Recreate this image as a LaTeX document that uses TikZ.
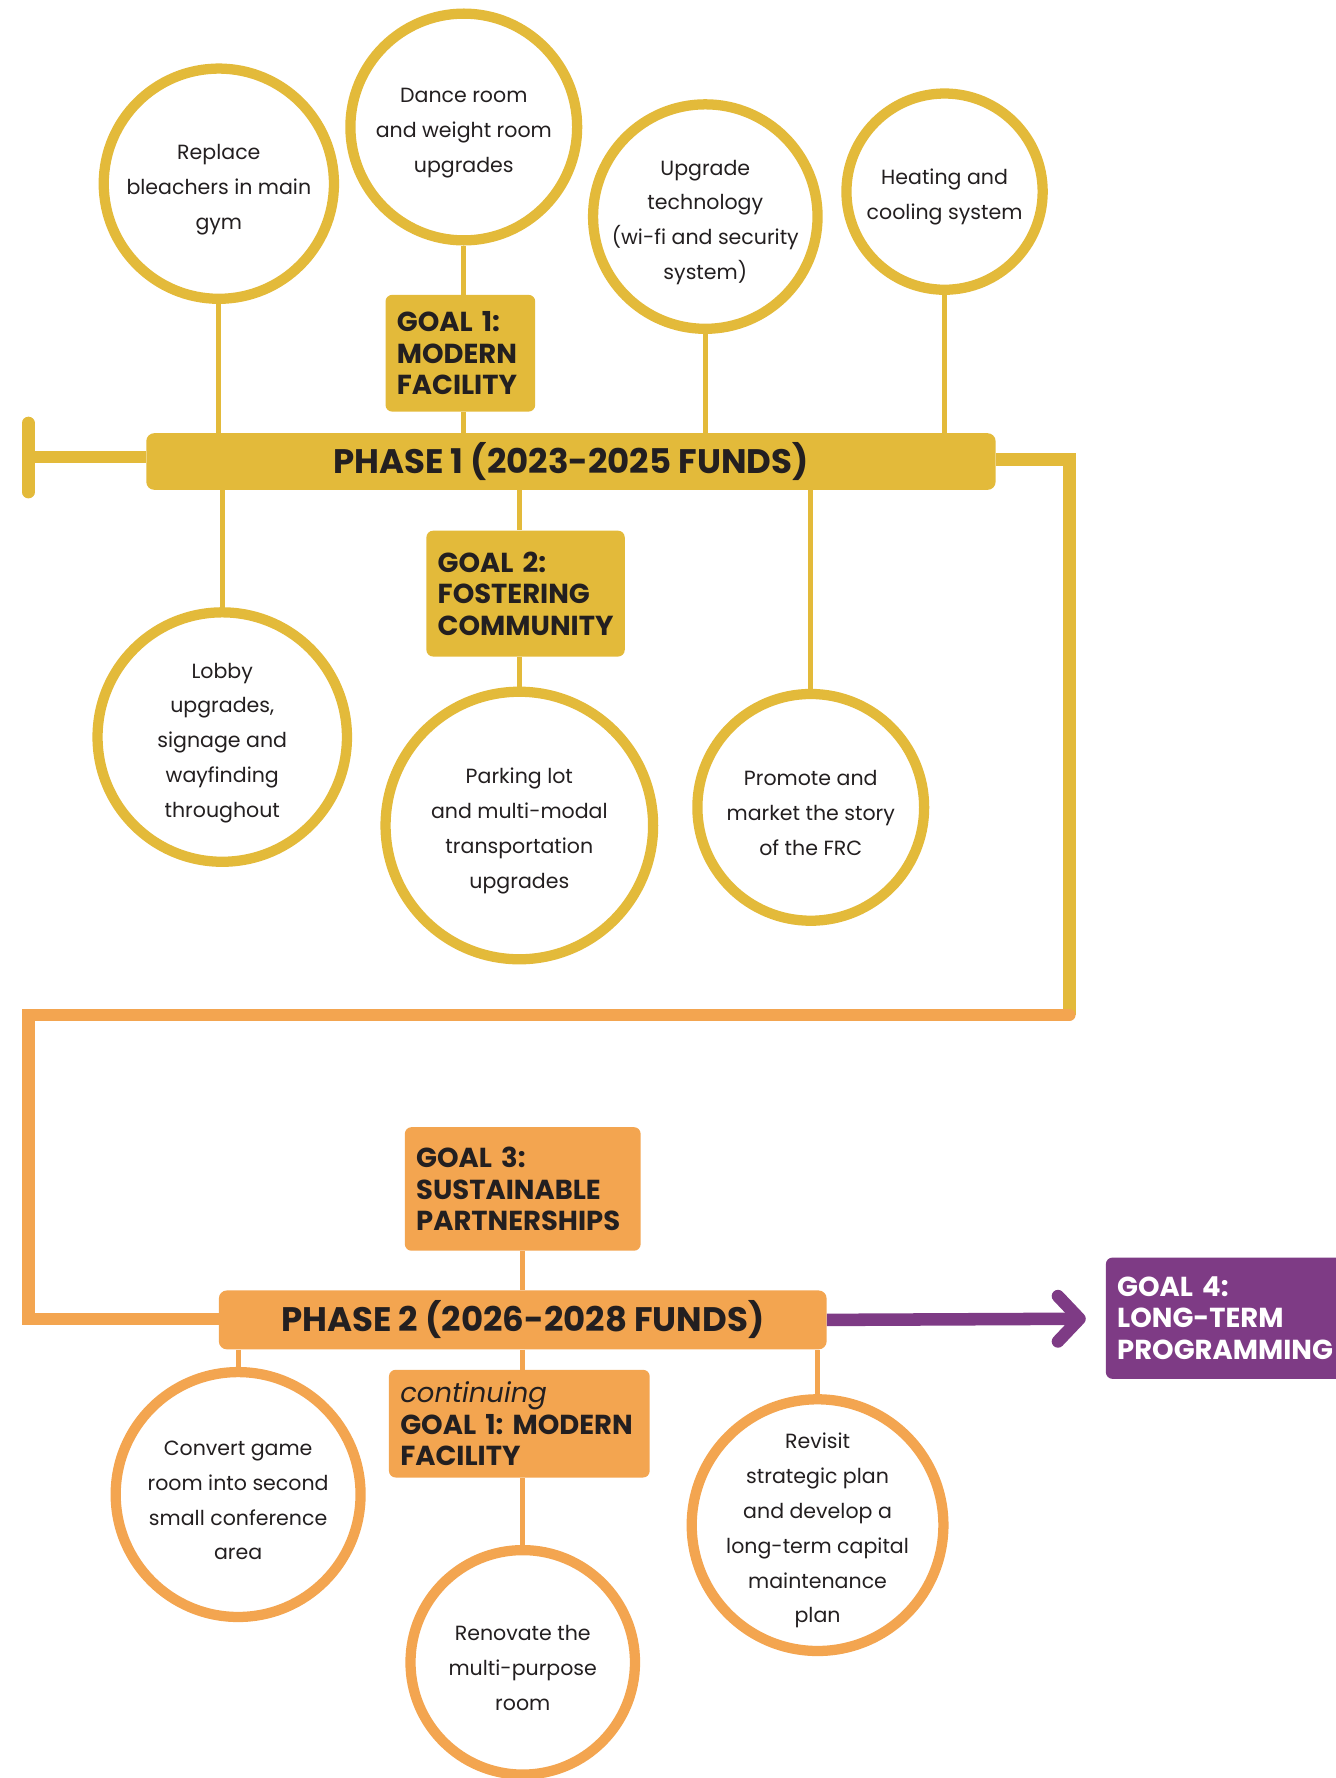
\documentclass[tikz,border=0pt]{standalone}
\usepackage{fontspec}
\setmainfont{Poppins}
\usetikzlibrary{calc}
\definecolor{ylw}{HTML}{E3BA3A}
\definecolor{org}{HTML}{F3A550}
\definecolor{purp}{HTML}{7E3B85}
\definecolor{txt}{HTML}{231F20}
\frenchspacing
\newcommand\circfont{\fontsize{15.4}{26.1}\selectfont}
\newcommand\goalfont{\fontsize{20.6}{23.8}\bfseries\selectfont\hyphenpenalty=10000 }
\newcommand\barfont{\fontsize{25.5}{29}\bfseries\selectfont}
\newcommand\tp{\rule{0pt}{20pt}}
\begin{document}
\begin{tikzpicture}[x=0.8506pt,y=-0.8506pt,
  circ/.style={circle, draw=#1, line width=7.7pt, fill=white, align=center, font=\circfont, text=txt, inner sep=-20pt},
  gbox/.style={rectangle, rounded corners=5pt, fill=#1, font=\goalfont, align=left, inner xsep=8.5pt, text=txt},
  barbox/.style={rectangle, rounded corners=6pt, fill=#1, font=\barfont, text=txt, inner sep=0pt},
  conn/.style={draw=#1, line width=3.6pt},
  mainln/.style={draw=#1, line width=9.4pt}]
\useasboundingbox (0,0) rectangle (1178,1568);

% ---------- Phase 1 ----------
\node[barbox=ylw, minimum width=637.1pt, minimum height=42.5pt] (p1) at (503.5,407) {PHASE 1 (2023-2025 FUNDS)};
\node[circ=ylw, minimum size=172.7pt] (c1) at (193,162) {\tp Replace\\bleachers in main\\gym};
\node[circ=ylw, minimum size=170.1pt] (c2) at (409,112) {\tp Dance room\\and weight room\\upgrades};
\node[circ=ylw, minimum size=168.4pt] (c3) at (622,191) {\tp Upgrade\\technology\\(wi-fi and security\\system)};
\node[circ=ylw, minimum size=147.2pt] (c4) at (833,169) {\tp Heating and\\cooling system};
\node[gbox=ylw, minimum height=87.6pt, text width=95.3pt] (g1) at (406,311.5) {GOAL 1:\\MODERN\\FACILITY};
\node[gbox=ylw, minimum height=94.4pt, text width=131.8pt] (g2) at (463.5,523.5) {GOAL 2:\\FOSTERING\\COMMUNITY};
\node[circ=ylw, minimum size=187.1pt] (c5) at (196,650) {\tp Lobby\\upgrades,\\signage and\\wayfinding\\throughout};
\node[circ=ylw, minimum size=200.7pt] (c6) at (458,728) {\tp Parking lot\\and multi-modal\\transportation\\upgrades};
\node[circ=ylw, minimum size=170.1pt] (c7) at (715,712) {\tp Promote and\\market the story\\of the FRC};

\draw[conn=ylw] (c1.south) -- (c1.south |- p1.north);
\draw[conn=ylw] (c2.south) -- (c2.south |- g1.north);
\draw[conn=ylw] (c2.south |- g1.south) -- (c2.south |- p1.north);
\draw[conn=ylw] (c3.south) -- (c3.south |- p1.north);
\draw[conn=ylw] (c4.south) -- (c4.south |- p1.north);
\draw[conn=ylw] (c5.north |- p1.south) -- (c5.north);
\draw[conn=ylw] (c6.north |- p1.south) -- (c6.north |- g2.north);
\draw[conn=ylw] (c6.north |- g2.south) -- (c6.north);
\draw[conn=ylw] (c7.north |- p1.south) -- (c7.north);

% T start
\coordinate (tl) at (25,403);
\coordinate (tt) at (25,373);
\coordinate (tb) at (25,434);
\draw[mainln=ylw] (tl) -- (tl -| p1.west);
\draw[mainln=ylw, line cap=round] (tt) -- (tb);

% route to phase 2
\coordinate (yr) at (943,405);
\coordinate (yb) at (943,895);
\coordinate (ol) at (25,895);
\coordinate (olb) at (25,1163);
\draw[mainln=ylw] (p1.east |- yr) -- (yr) -- (yb);

% ---------- Phase 2 ----------
\node[barbox=org, minimum width=455.9pt, minimum height=44.2pt] (p2) at (461,1164) {PHASE 2 (2026-2028 FUNDS)};
\draw[mainln=org, line cap=round] (yb) -- (ol) -- (olb) -- (olb -| p2.west);

\node[gbox=org, minimum height=92.7pt, text width=159.9pt] (g3) at (461,1048.5) {GOAL 3:\\SUSTAINABLE\\PARTNERSHIPS};
\node[gbox=org, minimum height=80.8pt, text width=178.6pt] (g1b) at (458,1255.5) {{\mdseries\itshape continuing}\\\mbox{GOAL 1: MODERN}\\FACILITY};
\node[circ=org, minimum size=183.7pt] (c8) at (210,1318) {\tp Convert game\\room into second\\small conference\\area};
\node[circ=org, minimum size=168.4pt] (c9) at (461,1466) {\tp Renovate the\\multi-purpose\\room};
\node[circ=org, minimum size=188.8pt] (c10) at (721,1345) {\tp Revisit\\strategic plan\\and develop a\\long-term capital\\maintenance\\plan};

\draw[conn=org] (g3.south -| p2.north) -- (p2.north);
\draw[conn=org] (c8.north |- p2.south) -- (c8.north);
\draw[conn=org] (c9.north |- p2.south) -- (c9.north |- g1b.north);
\draw[conn=org] (c9.north |- g1b.south) -- (c9.north);
\draw[conn=org] (c10.north |- p2.south) -- (c10.north);

% ---------- Goal 4 ----------
\node[gbox=purp, text=white, anchor=west, minimum height=91pt, text width=175pt] (g4) at (975,1162.5) {GOAL 4:\\LONG-TERM\\PROGRAMMING};
\coordinate (tip) at (952,1163);
\draw[mainln=purp] (p2.east) -- ($(tip)+(-3,0)$);
\draw[mainln=purp, line cap=round, line join=round] ($(tip)+(-19,-20)$) -- (tip) -- ($(tip)+(-19,20)$);
\end{tikzpicture}
\end{document}
